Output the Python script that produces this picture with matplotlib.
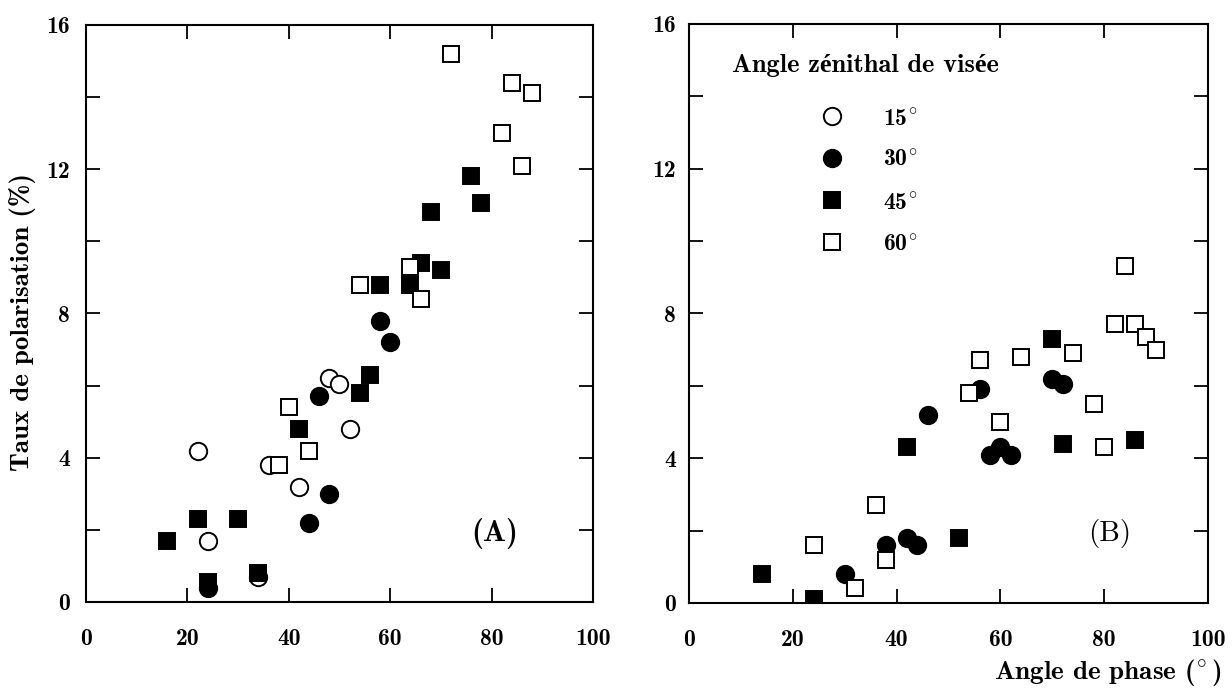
import matplotlib
matplotlib.use('Agg')
import matplotlib.pyplot as plt

# police type Computer Modern, repli sur Liberation Serif pour é
plt.rcParams['font.family'] = ['cmb10', 'Liberation Serif']
plt.rcParams['font.weight'] = 'bold'
plt.rcParams['mathtext.fontset'] = 'cm'
plt.rcParams['axes.unicode_minus'] = False

# (A) donnees : angle de phase (deg), taux de polarisation (%)
a15_x = [22, 24, 34, 36, 42, 48, 50, 52]
a15_y = [4.2, 1.7, 0.7, 3.8, 3.2, 6.2, 6.05, 4.8]
a30_x = [24, 44, 48, 46, 58, 60]
a30_y = [0.4, 2.2, 3.0, 5.7, 7.8, 7.2]
a45_x = [16, 22, 24, 30, 34, 42, 54, 56, 58, 64, 66, 70, 68, 76, 78]
a45_y = [1.7, 2.3, 0.55, 2.3, 0.8, 4.8, 5.8, 6.3, 8.8, 8.8, 9.4, 9.2, 10.8, 11.8, 11.05]
a60_x = [40, 38, 44, 54, 64, 66, 72, 82, 84, 88, 86]
a60_y = [5.4, 3.8, 4.2, 8.8, 9.3, 8.4, 15.2, 13.0, 14.4, 14.1, 12.1]

# (B) donnees
b30_x = [30, 38, 42, 44, 46, 56, 58, 60, 62, 70, 72]
b30_y = [0.8, 1.6, 1.8, 1.6, 5.2, 5.9, 4.1, 4.3, 4.1, 6.2, 6.05]
b45_x = [14, 24, 42, 52, 70, 72, 86]
b45_y = [0.8, 0.1, 4.3, 1.8, 7.3, 4.4, 4.5]
b60_x = [24, 32, 36, 38, 54, 56, 60, 64, 74, 78, 80, 82, 84, 86, 88, 90]
b60_y = [1.6, 0.4, 2.7, 1.2, 5.8, 6.7, 5.0, 6.8, 6.9, 5.5, 4.3, 7.7, 9.3, 7.7, 7.35, 7.0]

# le signe degre passe par mathtext (cmb10 n'a pas le glyphe)
labels = [r'15$^{\!\circ}$', r'30$^{\!\circ}$', r'45$^{\!\circ}$', r'60$^{\!\circ}$']
xticks = [0, 20, 40, 60, 80, 100]
yticks = [0, 2, 4, 6, 8, 10, 12, 14, 16]
ylabels = ['0', '', '4', '', '8', '', '12', '', '16']

s15 = dict(marker='o', ms=12.5, mfc='white', mec='black', mew=1.4, ls='none')
s30 = dict(marker='o', ms=12.5, mfc='black', mec='black', mew=1.4, ls='none')
s45 = dict(marker='s', ms=11.5, mfc='black', mec='black', mew=1.4, ls='none')
s60 = dict(marker='s', ms=11.5, mfc='white', mec='black', mew=1.4, ls='none')

fig = plt.figure(figsize=(12.32, 6.89), dpi=100)
ax1 = fig.add_axes([0.0698, 0.1263, 0.4115, 0.8375])
ax2 = fig.add_axes([0.5593, 0.1249, 0.4213, 0.8404])

ax1.plot(a15_x, a15_y, **s15)
ax1.plot(a30_x, a30_y, **s30)
ax1.plot(a45_x, a45_y, **s45)
ax1.plot(a60_x, a60_y, **s60)

ax2.plot([], [], label=labels[0], **s15)
ax2.plot(b30_x, b30_y, label=labels[1], **s30)
ax2.plot(b45_x, b45_y, label=labels[2], **s45)
ax2.plot(b60_x, b60_y, label=labels[3], **s60)

for ax, ypad in ((ax1, 11.5), (ax2, 9.5)):
    ax.set_xlim(0, 100)
    ax.set_ylim(0, 16)
    ax.set_xticks(xticks)
    ax.set_xticklabels([str(t) for t in xticks])
    ax.set_yticks(yticks)
    ax.set_yticklabels(ylabels)
    ax.tick_params(direction='in', length=10, width=1.3, top=True, right=True,
                   labelsize=17)
    ax.tick_params(axis='y', pad=ypad)
    ax.tick_params(axis='x', pad=19)
    for s in ax.spines.values():
        s.set_linewidth(1.5)

ax1.text(80.6, 1.9, '(A)', fontsize=22, ha='center', va='center')
ax2.text(81, 1.93, '(B)', fontsize=21, ha='center', va='center',
         family=['cmr10', 'Liberation Serif'], fontweight='normal')

ax2.text(8.3, 14.85, 'Angle zénithal de visée', fontsize=19, ha='left', va='center')
ax2.legend(loc='upper left', bbox_to_anchor=(0.229, 0.8556), frameon=False,
           fontsize=17, handletextpad=1.16, labelspacing=0.85,
           borderpad=0, borderaxespad=0)

fig.text(23 / 1232, 1 - 322 / 689, 'Taux de polarisation (%)', rotation=90,
         fontsize=19.5, ha='center', va='center')
fig.text(1221 / 1232, 1 - 672 / 689, r'Angle de phase ($^{\!\circ}$)',
         fontsize=19.5, ha='right', va='center')

plt.savefig('out.png', dpi=100)
